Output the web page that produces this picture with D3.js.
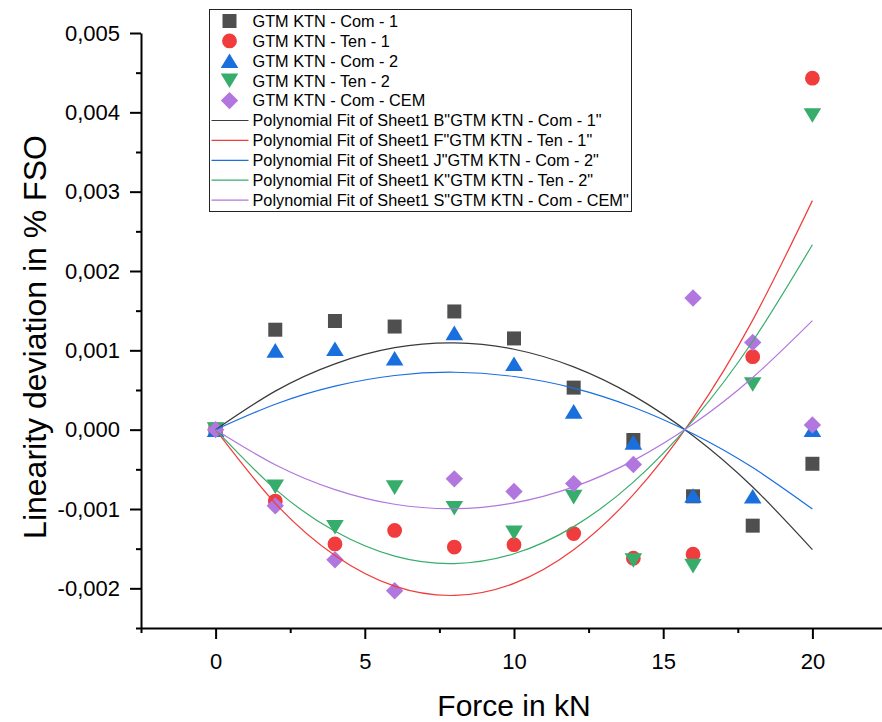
<!DOCTYPE html>
<html>
<head>
<meta charset="utf-8">
<script src="https://cdn.jsdelivr.net/npm/d3@7"></script>
<style>
  html, body { margin: 0; padding: 0; background: #fff; }
  svg { display: block; }
  text { font-family: "Liberation Sans", Arial, sans-serif; fill: #000; }
</style>
</head>
<body>
<svg id="chart" width="882" height="722"></svg>
<script>
// ---------------- data ----------------
const forces = [0, 2, 4, 6, 8, 10, 12, 14, 16, 18, 20];
const com1 = [0, 0.00126, 0.00137, 0.00130, 0.00149, 0.00115, 0.00053, -0.00013, -0.00084, -0.00121, -0.00043];
const ten1 = [0, -0.00090, -0.00144, -0.00127, -0.00148, -0.00145, -0.00131, -0.00162, -0.00157, 0.00092, 0.00443];
const com2 = [0, 0.00100, 0.00102, 0.00090, 0.00122, 0.00083, 0.00023, -0.00016, -0.00083, -0.00084, 0.00000];
const ten2 = [0, -0.00072, -0.00123, -0.00073, -0.00099, -0.00130, -0.00085, -0.00165, -0.00172, 0.00057, 0.00396];
const comCem = [0, -0.00096, -0.00164, -0.00203, -0.00062, -0.00078, -0.00068, -0.00044, 0.00166, 0.00110, 0.00006];

// polynomial fit curves at each force value
const fitCom1 = [0, 0.000486, 0.000830, 0.001033, 0.001094, 0.001014, 0.000792, 0.000429, -0.000076, -0.000723, -0.001511];
const fitTen1 = [0, -0.000928, -0.001586, -0.001973, -0.002090, -0.001937, -0.001513, -0.000819, 0.000146, 0.001381, 0.002887];
const fitCom2 = [0, 0.000321, 0.000549, 0.000683, 0.000724, 0.000670, 0.000524, 0.000283, -0.000051, -0.000478, -0.000999];
const fitTen2 = [0, -0.000750, -0.001281, -0.001594, -0.001688, -0.001564, -0.001222, -0.000661, 0.000118, 0.001115, 0.002331];
const fitCem = [0, -0.000442, -0.000755, -0.000940, -0.000996, -0.000923, -0.000721, -0.000390, 0.000070, 0.000658, 0.001375];

const seriesNames = ["GTM KTN - Com - 1", "GTM KTN - Ten - 1", "GTM KTN - Com - 2", "GTM KTN - Ten - 2", "GTM KTN - Com - CEM"];
const fitNames = [
  'Polynomial Fit of Sheet1 B"GTM KTN - Com - 1"',
  'Polynomial Fit of Sheet1 F"GTM KTN - Ten - 1"',
  'Polynomial Fit of Sheet1 J"GTM KTN - Com - 2"',
  'Polynomial Fit of Sheet1 K"GTM KTN - Ten - 2"',
  'Polynomial Fit of Sheet1 S"GTM KTN - Com - CEM"'
];
const xMajorTicks = [0, 5, 10, 15, 20];
const xMinorTicks = [-2.5, 2.5, 7.5, 12.5, 17.5, 22.5];
const yMajorTicks = [-0.002, -0.001, 0, 0.001, 0.002, 0.003, 0.004, 0.005];
const yMinorTicks = [-0.0025, -0.0015, -0.0005, 0.0005, 0.0015, 0.0025, 0.0035, 0.0045];
const xTitle = "Force in kN";
const yTitle = "Linearity deviation in % FSO";

// ---------------- styles ----------------
const colors = ["#4f4f4f", "#f03c3c", "#1a6fdf", "#37ad6b", "#b177de"];
const lineColors = ["#3a3a3a", "#f03c3c", "#1a6fdf", "#37ad6b", "#b177de"];
const shapes = ["square", "circle", "triUp", "triDown", "diamond"];

const svg = d3.select("#chart");
const x = d3.scaleLinear().domain([-2.5, 22.5]).range([141, 887]);
const y = d3.scaleLinear().domain([-0.0025, 0.005]).range([628, 33]);

const locale = d3.formatLocale({decimal: ",", thousands: ".", grouping: [3], currency: ["", ""], minus: "-"});
const yFmt = locale.format(".3f");

function shapePath(shape) {
  switch (shape) {
    case "square": return "M-7,-7H7V7H-7Z";
    case "circle": { const p = d3.path(); p.arc(0, 0, 7.4, 0, 2 * Math.PI); p.closePath(); return p.toString(); }
    case "triUp": return "M0,-7.3L8.8,7.3L-8.8,7.3Z";
    case "triDown": return "M0,7.3L8.8,-7.3L-8.8,-7.3Z";
    case "diamond": return "M0,-8.7L8.7,0L0,8.7L-8.7,0Z";
  }
}

// ---------------- axes ----------------
const axisStyle = g => {
  g.selectAll("path.domain").attr("stroke", "#000").attr("stroke-width", 2);
  g.selectAll(".tick line").attr("stroke", "#000").attr("stroke-width", 2);
};

// y axis (left)
const yAxis = svg.append("g").attr("transform", "translate(141,0)");
yAxis.call(d3.axisLeft(y).tickValues(yMajorTicks).tickSize(11).tickSizeOuter(0).tickPadding(10).tickFormat(yFmt));
yAxis.selectAll(".tick text").attr("font-size", 22).attr("font-family", '"Liberation Sans", Arial, sans-serif').attr("fill", "#000");
axisStyle(yAxis);
const yMinor = svg.append("g").attr("transform", "translate(141,0)");
yMinor.call(d3.axisLeft(y).tickValues(yMinorTicks).tickSize(5).tickSizeOuter(0).tickFormat(""));
yMinor.select("path.domain").remove();
axisStyle(yMinor);

// x axis (bottom)
const xAxis = svg.append("g").attr("transform", "translate(0,628)");
xAxis.call(d3.axisBottom(x).tickValues(xMajorTicks).tickSize(11).tickSizeOuter(0).tickPadding(14).tickFormat(d3.format("d")));
xAxis.selectAll(".tick text").attr("font-size", 22).attr("font-family", '"Liberation Sans", Arial, sans-serif').attr("fill", "#000");
axisStyle(xAxis);
const xMinor = svg.append("g").attr("transform", "translate(0,628)");
xMinor.call(d3.axisBottom(x).tickValues(xMinorTicks).tickSize(5).tickSizeOuter(0).tickFormat(""));
xMinor.select("path.domain").remove();
axisStyle(xMinor);

// axis titles
svg.append("text").attr("x", 514).attr("y", 716).attr("text-anchor", "middle")
  .attr("font-size", 30).text(xTitle);
svg.append("text").attr("transform", "translate(46,337) rotate(-90)").attr("text-anchor", "middle")
  .attr("font-size", 32).text(yTitle);

// ---------------- marks ----------------
const allSeries = [com1, ten1, com2, ten2, comCem];
const allFits = [fitCom1, fitTen1, fitCom2, fitTen2, fitCem];

const markG = svg.append("g");
allSeries.forEach((vals, i) => {
  markG.append("g").selectAll("path")
    .data(forces.map((f, k) => ({f, v: vals[k]})))
    .join("path")
    .attr("d", shapePath(shapes[i]))
    .attr("transform", d => `translate(${x(d.f)},${y(d.v)})`)
    .attr("fill", colors[i]);
});

const line = d3.line().x((d) => x(d.f)).y(d => y(d.v)).curve(d3.curveNatural);
const fitG = svg.append("g");
allFits.forEach((vals, i) => {
  fitG.append("path")
    .datum(forces.map((f, k) => ({f, v: vals[k]})))
    .attr("d", line)
    .attr("fill", "none")
    .attr("stroke", lineColors[i])
    .attr("stroke-width", 1.2);
});

// ---------------- legend ----------------
const leg = svg.append("g");
leg.append("rect").attr("x", 209.5).attr("y", 9.5).attr("width", 422).attr("height", 202)
  .attr("fill", "#fff").attr("stroke", "#222").attr("stroke-width", 1);
const rowY = i => 21 + i * 19.9;
seriesNames.forEach((name, i) => {
  leg.append("path").attr("d", shapePath(shapes[i]))
    .attr("transform", `translate(229.5,${rowY(i)})`).attr("fill", colors[i]);
  leg.append("text").attr("x", 252.5).attr("y", rowY(i)).attr("dy", "0.36em")
    .attr("font-size", 16.3).text(name);
});
fitNames.forEach((name, j) => {
  const i = j + 5;
  leg.append("line").attr("x1", 211.5).attr("x2", 248.5).attr("y1", rowY(i)).attr("y2", rowY(i))
    .attr("stroke", lineColors[j]).attr("stroke-width", 1.2);
  leg.append("text").attr("x", 252.5).attr("y", rowY(i)).attr("dy", "0.36em")
    .attr("font-size", 16.3).text(name);
});
</script>
</body>
</html>
